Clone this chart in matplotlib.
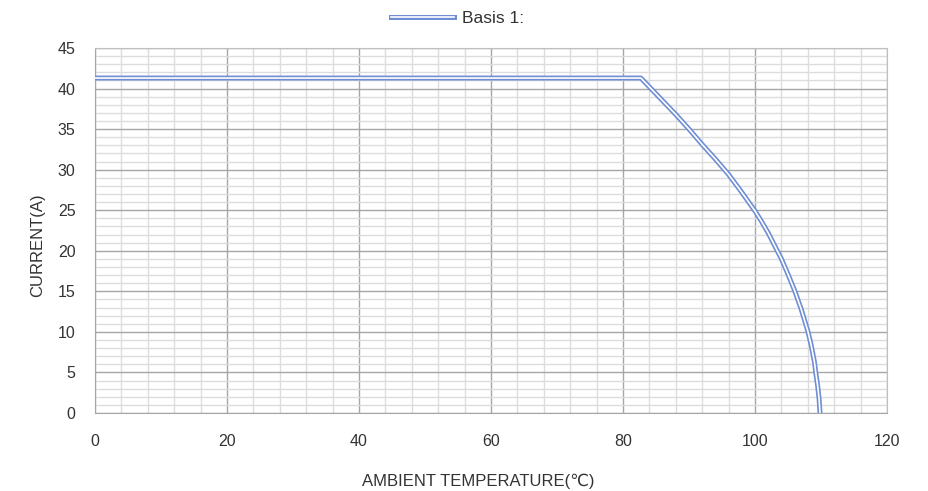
import numpy as np
import matplotlib.pyplot as plt
import matplotlib.patheffects as pe
from matplotlib.ticker import MultipleLocator

plt.rcParams['font.family'] = ['Liberation Sans', 'DejaVu Sans']

# derating curve
temp = [0, 82.7, 84, 86, 88, 90, 92, 94, 96, 98, 100, 101, 102, 103, 104,
        105, 106, 107, 108, 108.5, 109, 109.2, 109.5, 109.7, 109.85]
current = [41.3, 41.3, 40.2, 38.5, 36.8, 35.0, 33.1, 31.3, 29.4, 27.2, 24.9,
           23.6, 22.2, 20.6, 19.0, 17.1, 15.1, 12.8, 10.1, 8.4, 6.3, 5.0,
           3.3, 1.8, 0]

BLUE = '#6f8ed4'
TXT = '#333333'

fig = plt.figure(figsize=(9.29, 4.91), dpi=100)
ax = fig.add_axes([0.1023, 0.1589, 0.8525, 0.7433])

ax.plot(temp, current, color='white', linewidth=1.2, label='Basis 1:',
        path_effects=[pe.Stroke(linewidth=3.6, foreground=BLUE), pe.Normal()],
        zorder=5)

ax.set_xlim(0, 120)
ax.set_ylim(0, 45)
ax.xaxis.set_major_locator(MultipleLocator(20))
ax.xaxis.set_minor_locator(MultipleLocator(4))
ax.yaxis.set_major_locator(MultipleLocator(5))
ax.yaxis.set_minor_locator(MultipleLocator(1))

ax.grid(which='major', color='#a6a6a6', linewidth=1.0)
ax.grid(which='minor', color='#dcdcdc', linewidth=1.0)
ax.set_axisbelow(True)
ax.tick_params(which='both', length=0, labelsize=11.5, colors=TXT)
ax.tick_params(axis='x', pad=15)
ax.tick_params(axis='y', pad=14)
for s in ax.spines.values():
    s.set_color('#bfbfbf')
ax.spines['left'].set_color('#a6a6a6')
ax.spines['bottom'].set_color('#a6a6a6')

ax.set_ylabel('CURRENT(A)', fontsize=12, color=TXT)
ax.set_xlabel('AMBIENT TEMPERATURE(\u2103)', fontsize=12, color=TXT)
ax.yaxis.set_label_coords(-0.063, 0.46)
ax.xaxis.set_label_coords(0.4836, -0.166)

leg = ax.legend(loc='center', bbox_to_anchor=(0.458, 1.08), frameon=False,
                fontsize=12.5, handlelength=3.6, handletextpad=0.5,
                borderpad=0, borderaxespad=0)
for t in leg.get_texts():
    t.set_color(TXT)

fig.savefig('out.png', dpi=100)
